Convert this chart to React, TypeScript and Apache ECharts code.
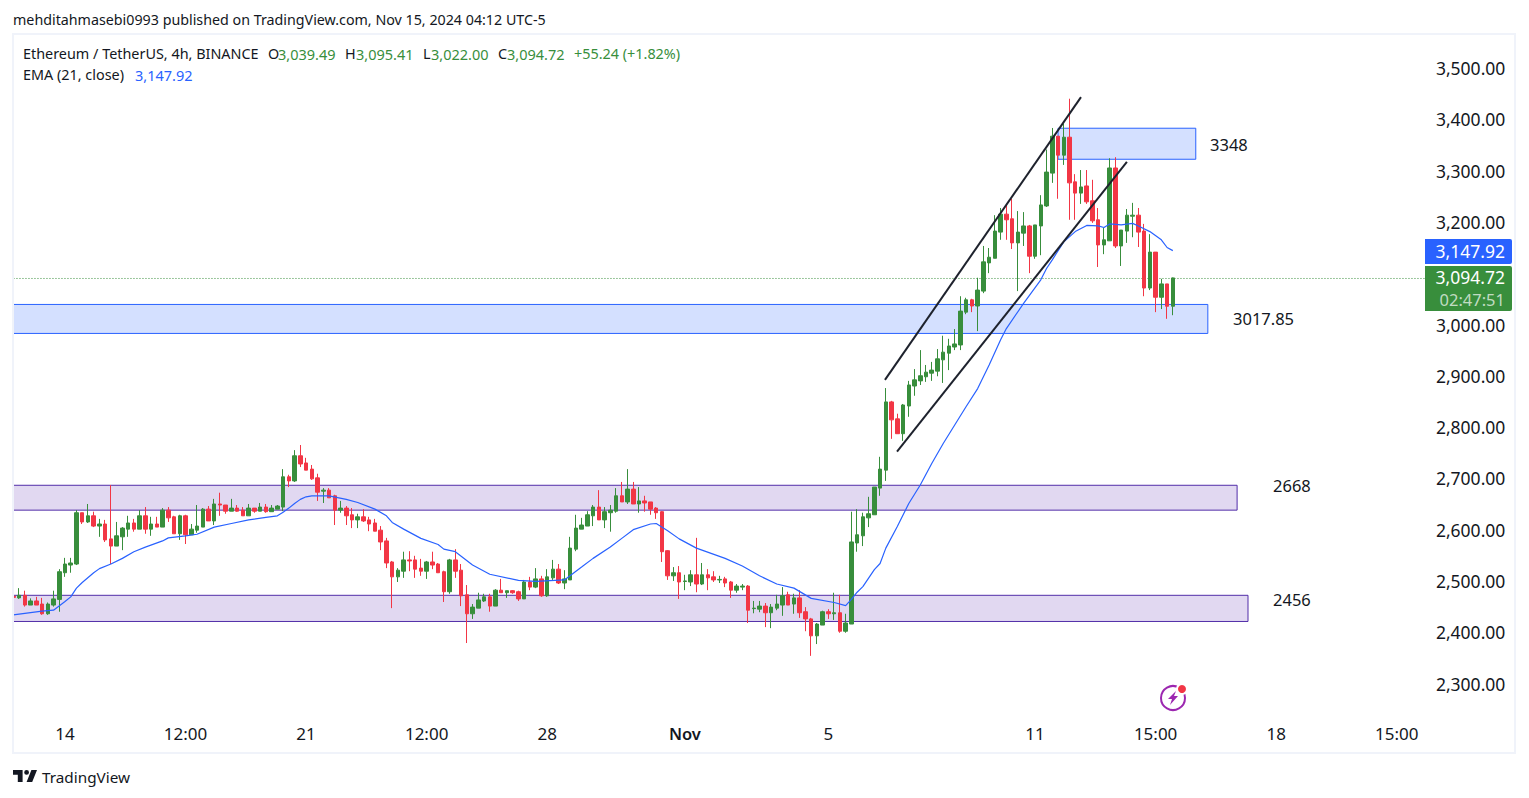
import React, { useEffect, useRef } from "react";
import * as echarts from "echarts";

// Prices, one value per 4h candle, index 0 at the left edge.
const opens = [
  2474,2471,2476,2457,2465,2459,2440,2457,2468,2520,
  2535,2537,2637,2619,2631,2611,2615,2586,2572,2590,
  2605,2617,2605,2631,2605,2615,2609,2642,2629,2596,
  2631,2594,2603,2609,2644,2621,2654,2652,2640,2646,
  2642,2631,2646,2640,2648,2639,2644,2648,2707,2699,
  2748,2734,2722,2705,2679,2681,2670,2642,2646,2633,
  2623,2629,2623,2617,2603,2582,2541,2512,2523,2545,
  2545,2529,2523,2541,2537,2522,2483,2545,2525,2477,
  2440,2451,2465,2473,2455,2486,2481,2485,2483,2469,
  2502,2492,2508,2475,2510,2527,2500,2506,2566,2605,
  2611,2631,2648,2623,2637,2640,2670,2658,2683,2654,
  2660,2658,2646,2639,2563,2514,2520,2503,2502,2516,
  2498,2516,2512,2506,2508,2502,2486,2492,2494,2450,
  2449,2455,2442,2451,2457,2477,2459,2471,2444,2430,
  2397,2418,2444,2440,2442,2406,2420,2578,2592,2627,
  2633,2685,2720,2853,2820,2791,2845,2884,2894,2902,
  2909,2913,2935,2948,2960,2964,3028,3052,3040,3069,
  3124,3133,3184,3219,3210,3163,3182,3196,3137,3196,
  3235,3299,3371,3334,3369,3282,3260,3274,3245,3208,
  3159,3167,3309,3157,3186,3215,3217,3186,3075,3145,
  3057,3083,3039.49,
];
const closes = [
  2472,2476,2457,2465,2457,2440,2459,2469,2522,2537,
  2539,2637,2619,2631,2611,2615,2584,2572,2592,2607,
  2617,2605,2631,2605,2615,2609,2642,2627,2596,2631,
  2594,2605,2611,2644,2621,2654,2652,2640,2646,2640,
  2631,2646,2640,2648,2639,2646,2650,2707,2699,2748,
  2732,2720,2703,2677,2681,2666,2642,2646,2631,2623,
  2629,2621,2615,2601,2580,2539,2512,2525,2545,2543,
  2527,2523,2541,2535,2520,2483,2545,2523,2475,2440,
  2453,2467,2473,2455,2486,2481,2485,2481,2469,2502,
  2492,2508,2475,2512,2527,2500,2508,2568,2607,2613,
  2633,2648,2623,2639,2642,2670,2658,2683,2654,2660,
  2656,2644,2637,2561,2514,2520,2502,2504,2516,2498,
  2516,2510,2506,2507,2500,2486,2494,2494,2447,2451,
  2455,2442,2453,2459,2475,2457,2471,2442,2430,2397,
  2420,2444,2440,2442,2406,2422,2580,2594,2629,2635,
  2687,2722,2853,2818,2791,2847,2886,2896,2904,2911,
  2915,2937,2950,2962,2966,3030,3052,3040,3071,3126,
  3135,3186,3219,3208,3163,3184,3196,3137,3198,3237,
  3301,3371,3334,3369,3280,3260,3272,3243,3206,3159,
  3169,3309,3157,3188,3217,3217,3184,3075,3145,3057,
  3083,3039.49,3094.72,
];
const highs = [
  2486,2490,2485,2470,2473,2471,2462,2485,2527,2549,
  2549,2642,2637,2654,2639,2625,2623,2691,2619,2609,
  2631,2625,2642,2648,2629,2629,2646,2648,2631,2633,
  2633,2615,2652,2646,2650,2664,2676,2652,2664,2652,
  2648,2654,2646,2656,2654,2652,2652,2722,2711,2759,
  2769,2744,2730,2713,2685,2685,2672,2660,2650,2646,
  2635,2644,2629,2625,2611,2588,2543,2529,2561,2562,
  2553,2547,2543,2561,2539,2524,2547,2566,2537,2496,
  2459,2481,2479,2479,2488,2508,2485,2486,2485,2506,
  2512,2529,2514,2527,2545,2537,2525,2590,2633,2627,
  2640,2652,2681,2648,2652,2685,2697,2722,2697,2687,
  2670,2658,2648,2640,2564,2531,2533,2516,2525,2588,
  2539,2527,2523,2514,2512,2504,2498,2498,2496,2465,
  2465,2461,2459,2477,2492,2483,2479,2486,2453,2432,
  2422,2446,2449,2481,2477,2440,2639,2644,2637,2668,
  2687,2746,2880,2855,2830,2849,2894,2917,2954,2925,
  2931,2956,2982,2976,2995,3059,3056,3054,3095,3157,
  3153,3217,3231,3237,3249,3225,3223,3198,3198,3256,
  3345,3387,3371,3395,3444,3297,3305,3305,3286,3231,
  3192,3328,3330,3188,3229,3241,3231,3200,3180,3145,
  3093,3083,3095.41,
];
const lows = [
  2467,2469,2454,2457,2457,2438,2438,2454,2444,2512,
  2520,2535,2615,2617,2609,2590,2580,2537,2572,2564,
  2590,2600,2605,2596,2592,2609,2609,2619,2596,2584,
  2576,2594,2598,2609,2621,2613,2631,2635,2640,2639,
  2631,2631,2637,2640,2637,2639,2644,2640,2687,2697,
  2726,2720,2701,2660,2656,2666,2613,2637,2613,2607,
  2607,2619,2601,2601,2564,2529,2451,2502,2510,2523,
  2510,2514,2508,2527,2520,2463,2479,2510,2455,2383,
  2430,2451,2463,2444,2455,2481,2471,2479,2465,2469,
  2486,2490,2473,2473,2506,2498,2488,2506,2562,2605,
  2611,2611,2623,2607,2600,2637,2658,2654,2654,2637,
  2639,2633,2625,2541,2506,2504,2469,2486,2494,2482,
  2496,2486,2502,2500,2492,2471,2481,2486,2422,2441,
  2443,2414,2412,2447,2436,2457,2440,2432,2406,2358,
  2381,2418,2430,2428,2403,2403,2420,2561,2572,2609,
  2633,2670,2699,2781,2791,2777,2824,2865,2886,2892,
  2894,2903,2890,2915,2954,2954,3024,3028,2991,3065,
  3104,3133,3169,3169,3151,3069,3157,3104,3132,3139,
  3233,3280,3249,3315,3208,3208,3239,3239,3202,3116,
  3141,3167,3153,3118,3163,3174,3155,3059,3071,3028,
  3034,3015,3022,
];

// EMA (21, close) read at these candle indices.
const emaIndex = [
  0,5,7,9,10,11,12,14,15,17,19,21,23,26,27,30,32,35,38,41,44,46,47,48,49,50,51,52,55,58,
  60,63,65,66,68,71,74,75,77,80,83,88,91,96,99,101,104,106,108,111,112,114,116,119,124,127,
  130,133,136,139,143,145,146,147,148,150,151,152,154,156,158,160,162,164,166,168,170,172,
  173,176,179,180,181,183,185,187,189,190,191,193,195,196,198,200,201,202,
];
const emaValues = [
  2438,2445,2447,2464,2473,2490,2501,2520,2528,2537,2548,2561,2570,2582,2588,2592,2595,2609,2616,2623,2628,2631,2638,2646,2655,2663,2668,2670,2670,2663,
  2657,2644,2631,2618,2605,2587,2575,2566,2561,2535,2517,2505,2503,2506,2531,2548,2570,2587,2604,2615,2616,2602,2586,2568,2548,2533,
  2514,2498,2490,2470,2462,2456,2468,2482,2493,2526,2538,2568,2610,2655,2691,2733,2772,2808,2844,2879,2925,2974,
  2996,3045,3091,3113,3130,3165,3185,3197,3196,3193,3200,3198,3201,3196,3185,3169,3154,3147.92,
];

const tickIndex = [9, 30, 51, 72, 93, 117, 142, 178, 199, 220, 241];
const tickLabels = ["14", "12:00", "21", "12:00", "28", "Nov", "5", "11", "15:00", "18", "15:00"];
const bandCount = 262;
const categories = Array.from({ length: bandCount }, (_, i) => `c${i}`);

// The 3,100.00 label sits behind the price tags in the reference, so it is not drawn.
const hiddenPriceLabels = [3100];
const PRICE_LINE = 3093.6;
const FONT = '"Noto Sans", sans-serif';
const GREEN = "#388e3c";
const RED = "#f23645";
const BLUE = "#2962ff";
const INK = "#131722";

const LOGO =
  "M14 6H2v6h6v9h6V6Zm12 15h-7l6-15h7l-6 15Zm-7-9a3 3 0 1 0 0-6 3 3 0 0 0 0 6Z";
echarts.graphic.registerShape("tvmark", echarts.graphic.extendPath(LOGO as any, {} as any) as any);

function zone(x0: number, x1: number, top: number, bottom: number, fill: string, stroke: string) {
  return [
    { coord: [x0, top], itemStyle: { color: fill, borderColor: stroke, borderWidth: 1 } },
    { coord: [x1, bottom] },
  ];
}

function txt(x: number, y: number, text: string, fill: string, size: number, extra: any = {}) {
  return {
    type: "text",
    x,
    y,
    z: 100,
    silent: true,
    style: {
      text,
      fill,
      fontSize: size,
      fontFamily: FONT,
      verticalAlign: "middle",
      align: "left",
      ...extra,
    },
  };
}

export default function App() {
  const ref = useRef<HTMLDivElement>(null);

  useEffect(() => {
    document.body.style.margin = "0";
    const chart = echarts.init(ref.current!, undefined, { renderer: "svg" });

    const candles = opens.map((o, i) => [o, closes[i], lows[i], highs[i]]);

    chart.setOption({
      animation: false,
      backgroundColor: "#ffffff",
      grid: { left: 10.47, top: 70, width: 1503.88, height: 615.6, containLabel: false },
      xAxis: [
        {
          type: "category",
          data: categories,
          boundaryGap: true,
          axisLine: { show: false },
          axisTick: { show: false },
          splitLine: { show: false },
          axisLabel: {
            interval: (i: number) => tickIndex.includes(i),
            formatter: (_: string, i: number) => {
              const k = tickIndex.indexOf(i);
              if (k < 0) return "";
              return tickLabels[k] === "Nov" ? "{month|Nov}" : tickLabels[k];
            },
            rich: { month: { fontSize: 16.5, fontWeight: 600, fontFamily: FONT, color: INK } },
            margin: 39,
            color: INK,
            fontSize: 17,
            fontFamily: FONT,
            hideOverlap: false,
          },
        },
        { type: "value", min: -0.5, max: 261.5, show: false, splitLine: { show: false } },
      ],
      yAxis: {
        type: "value",
        position: "right",
        min: 2300,
        max: 3500,
        interval: 100,
        scale: true,
        axisLine: { show: false },
        axisTick: { show: false },
        splitLine: { show: false },
        axisLabel: {
          inside: true,
          margin: 9,
          color: INK,
          fontSize: 17.5,
          fontFamily: FONT,
          formatter: (v: number) =>
            hiddenPriceLabels.includes(v)
              ? ""
              : `{p|${v.toLocaleString("en-US", { minimumFractionDigits: 2, maximumFractionDigits: 2 })}}`,
          rich: {
            p: { fontSize: 17.5, fontFamily: FONT, color: INK, padding: [0, 0, 4, 0] },
          },
        },
      },
      series: [
        {
          type: "candlestick",
          name: "ETHUSDT",
          xAxisIndex: 0,
          yAxisIndex: 0,
          z: 3,
          barWidth: 4,
          data: candles,
          itemStyle: {
            color: GREEN,
            color0: RED,
            borderColor: GREEN,
            borderColor0: RED,
            borderWidth: 1,
          },
        },
        {
          type: "line",
          name: "EMA",
          xAxisIndex: 1,
          yAxisIndex: 0,
          z: 4,
          symbol: "none",
          data: emaIndex.map((x, i) => [x, emaValues[i]]),
          lineStyle: { color: BLUE, width: 1.2 },
          markArea: {
            silent: true,
            z: 1,
            data: [
              zone(-0.5, 208.1, 3043, 2986.5, "rgba(41,98,255,0.2)", BLUE),
              zone(182, 206, 3386.5, 3326, "rgba(41,98,255,0.2)", BLUE),
              zone(-0.5, 213.2, 2690.5, 2642, "rgba(103,58,183,0.2)", "#512da8"),
              zone(-0.5, 215.1, 2476, 2425, "rgba(103,58,183,0.2)", "#512da8"),
            ],
          },
        },
        {
          type: "line",
          name: "channel upper",
          xAxisIndex: 1,
          yAxisIndex: 0,
          z: 5,
          symbol: "none",
          data: [[151.85, 2896], [186, 3447]],
          lineStyle: { color: "#1e222d", width: 2 },
        },
        {
          type: "line",
          name: "channel lower",
          xAxisIndex: 1,
          yAxisIndex: 0,
          z: 5,
          symbol: "none",
          data: [[153.95, 2756], [194, 3321]],
          lineStyle: { color: "#1e222d", width: 2 },
        },
        {
          type: "line",
          name: "last price",
          xAxisIndex: 1,
          yAxisIndex: 0,
          z: 2,
          symbol: "none",
          data: [[-0.5, PRICE_LINE], [246, PRICE_LINE]],
          lineStyle: { color: GREEN, width: 1, type: [1, 2] },
        },
      ],
      graphic: [
        // page areas around the pane
        { type: "rect", z: 90, silent: true, shape: { x: 0, y: 0, width: 13, height: 798 }, style: { fill: "#ffffff" } },
        {
          type: "rect",
          z: 91,
          silent: true,
          shape: { x: 13, y: 34, width: 1502, height: 719 },
          style: { fill: "none", stroke: "#f0f3fa", lineWidth: 2 },
        },
        // header
        txt(13, 19, "mehditahmasebi0993 published on TradingView.com, Nov 15, 2024 04:12 UTC-5", INK, 14.27),
        txt(23, 53.5, "Ethereum / TetherUS, 4h, BINANCE", INK, 14.4),
        txt(268, 53.5, "O", INK, 14.4),
        txt(278, 53.5, "3,039.49", GREEN, 14.5),
        txt(345, 53.5, "H", INK, 14.4),
        txt(356, 53.5, "3,095.41", GREEN, 14.5),
        txt(423, 53.5, "L", INK, 14.4),
        txt(431, 53.5, "3,022.00", GREEN, 14.5),
        txt(498, 53.5, "C", INK, 14.4),
        txt(507, 53.5, "3,094.72", GREEN, 14.5),
        txt(574, 53.5, "+55.24 (+1.82%)", GREEN, 14.4),
        txt(23, 74.5, "EMA (21, close)", INK, 14.4),
        txt(135, 74.5, "3,147.92", BLUE, 14.5),
        // zone notes
        txt(1210, 144.5, "3348", INK, 16.5),
        txt(1233, 318.5, "3017.85", INK, 16.5),
        txt(1273, 485.5, "2668", INK, 16.5),
        txt(1273, 599.5, "2456", INK, 16.5),
        // price tags
        {
          type: "rect",
          z: 95,
          silent: true,
          shape: { x: 1425, y: 239, width: 87, height: 25, r: [0, 2, 2, 0] },
          style: { fill: BLUE },
        },
        {
          type: "rect",
          z: 95,
          silent: true,
          shape: { x: 1425, y: 266, width: 87, height: 45, r: [0, 2, 2, 0] },
          style: { fill: GREEN },
        },
        txt(1505, 250.5, "3,147.92", "#ffffff", 17.5, { align: "right" }),
        txt(1505, 277, "3,094.72", "#ffffff", 17.5, { align: "right" }),
        txt(1505, 299, "02:47:51", "rgba(255,255,255,0.7)", 16.5, { align: "right" }),
        // lightning badge
        { type: "circle", z: 96, silent: true, shape: { cx: 1173, cy: 698, r: 12 }, style: { fill: "#ffffff", stroke: "#9c27b0", lineWidth: 2 } },
        { type: "polygon", z: 97, silent: true, shape: { points: [[1176, 691], [1168, 699], [1172, 699], [1170, 705], [1178, 696], [1174, 696]] }, style: { fill: "#9c27b0" } },
        { type: "circle", z: 97, silent: true, shape: { cx: 1182, cy: 689, r: 6 }, style: { fill: "#ffffff" } },
        { type: "circle", z: 98, silent: true, shape: { cx: 1182, cy: 689, r: 4 }, style: { fill: RED } },
        // footer
        { type: "tvmark", z: 96, silent: true, x: 11.4, y: 765.2, scaleX: 0.8, scaleY: 0.8, style: { fill: INK } },
        txt(42, 776.5, "TradingView", INK, 15.3),
      ],
    });

    return () => chart.dispose();
  }, []);

  return <div ref={ref} style={{ position: "absolute", left: 0, top: 0, width: 1529, height: 798 }} />;
}
